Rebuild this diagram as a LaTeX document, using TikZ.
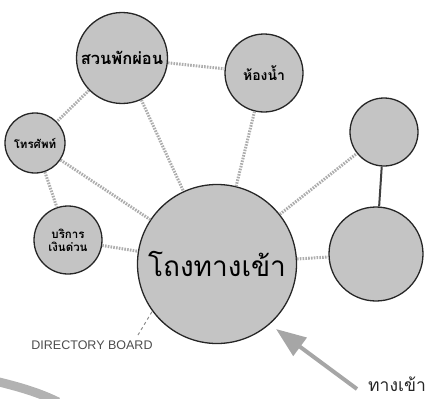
\documentclass[tikz,border=0pt]{standalone}
\usepackage{fontspec}
\newfontfamily\thaifont[Script=Thai]{Loma}
\setsansfont{Liberation Sans}
\usetikzlibrary{arrows.meta}
\definecolor{bubble}{HTML}{C4C4C4}
\definecolor{link}{HTML}{ADADAD}
\tikzset{
  bubble/.style={circle, draw=black!85, line width=1.3pt, fill=bubble, inner sep=0pt, minimum size=#1, font=\thaifont\bfseries, align=center},
  link/.style={draw=link, line width=3pt, dash pattern=on 1.6pt off 1.2pt},
  solidlink/.style={draw=black!75, line width=2pt},
}
\begin{document}
\begin{tikzpicture}[x=1pt,y=-1pt]
\useasboundingbox (0,0) rectangle (437,399);
% bubbles
\node[bubble=91pt, font=\thaifont\bfseries\fontsize{16.5}{16}\selectfont] (garden) at (122,58) {สวนพักผ่อน};
\node[bubble=78pt, font=\thaifont\bfseries\fontsize{14}{14}\selectfont] (wc) at (264,73) {ห้องน้ำ};
\node[bubble=60pt, font=\thaifont\bfseries\fontsize{11.5}{11}\selectfont] (phone) at (35,143) {โทรศัพท์};
\node[bubble=68pt, font=\thaifont\bfseries\fontsize{11.5}{13}\selectfont] (atm) at (68,240) {บริการ\\เงินด่วน};
\node[bubble=159pt, font=\thaifont\fontsize{28}{28}\selectfont] (hall) at (217,264) {โถงทางเข้า};
\node[bubble=68pt] (rtop) at (384,132) {};
\node[bubble=94pt] (rbot) at (376,254) {};
% connectors
\path[link] (garden) -- (wc);
\path[link] (garden) -- (phone);
\path[link] (phone) -- (hall);
\path[link] (phone) -- (atm);
\path[link] (atm) -- (hall);
\path[link] (garden) -- (hall);
\path[link] (wc) -- (hall);
\path[link] (hall) -- (rtop);
\path[link] (hall) -- (rbot);
\path[solidlink] (rtop) -- (rbot);
% directory board
\node[font=\sffamily\fontsize{12.5}{12}\selectfont, text=black!70] (board) at (92,345) {DIRECTORY BOARD};
\coordinate (boardtip) at (153,310);
\coordinate (boardfoot) at (138,335);
\draw[black!45, line width=1pt, dashed] (boardfoot) -- (boardtip);
% entrance
\node[font=\thaifont\fontsize{17.5}{17}\selectfont, text=black!85] (entr) at (397,384) {ทางเข้า};
\coordinate (arrtip) at (276,329);
\coordinate (arrtail) at (357,389);
\draw[black!35, line width=4pt, -{Triangle[width=22pt,length=30pt]}] (arrtail) -- (arrtip);
% grey band bottom left
\draw[black!30, line width=9pt] (-5,381) .. controls (20,387) and (40,393) .. (58,402);
\end{tikzpicture}
\end{document}
